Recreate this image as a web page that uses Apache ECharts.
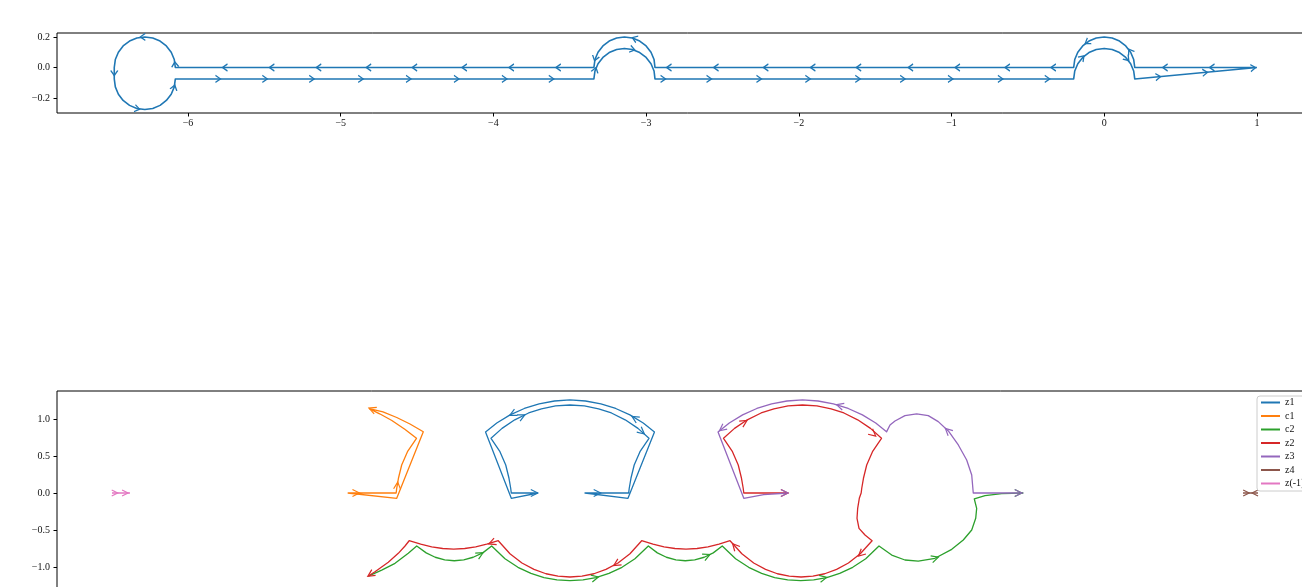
<!DOCTYPE html>
<html>
<head>
<meta charset="utf-8">
<title>contour and images</title>
<style>
  * { margin: 0; padding: 0; }
  html, body { background: #fff; overflow: hidden; }
  /* the axes run past the right and bottom edge of the window, as in the original */
  #chart { width: 1330px; height: 610px; }
</style>
</head>
<body>
<div id="chart"></div>
<script src="https://cdn.jsdelivr.net/npm/echarts@6/dist/echarts.min.js"></script>
<script>
// ---- top panel: the contour (upper edge walked leftwards, lower edge rightwards)
var topUpper = [
  [1.0, 0], [0.2, 0],
  [0.193, 0.052], [0.173, 0.1], [0.141, 0.141], [0.1, 0.173], [0.052, 0.193], [0, 0.2],
  [-0.052, 0.193], [-0.1, 0.173], [-0.141, 0.141], [-0.173, 0.1], [-0.193, 0.052], [-0.2, 0],
  [-2.942, 0],
  [-2.948, 0.052], [-2.968, 0.1], [-3.0, 0.141], [-3.042, 0.173], [-3.09, 0.193], [-3.142, 0.2],
  [-3.193, 0.193], [-3.242, 0.173], [-3.283, 0.141], [-3.315, 0.1], [-3.335, 0.052], [-3.342, 0],
  [-6.083, 0],
  [-6.09, 0.052], [-6.11, 0.1], [-6.142, 0.141], [-6.183, 0.173], [-6.231, 0.193], [-6.283, 0.2],
  [-6.335, 0.193], [-6.383, 0.173], [-6.425, 0.141], [-6.456, 0.1], [-6.476, 0.052], [-6.483, 0]
];
var topLower = [
  [-6.483, -0.075],
  [-6.476, -0.127], [-6.456, -0.175], [-6.425, -0.216], [-6.383, -0.248], [-6.335, -0.268], [-6.283, -0.275],
  [-6.231, -0.268], [-6.183, -0.248], [-6.142, -0.216], [-6.11, -0.175], [-6.09, -0.127], [-6.083, -0.075],
  [-3.342, -0.075],
  [-3.335, -0.023], [-3.315, 0.025], [-3.283, 0.066], [-3.242, 0.098], [-3.193, 0.118], [-3.142, 0.125],
  [-3.09, 0.118], [-3.042, 0.098], [-3.0, 0.066], [-2.968, 0.025], [-2.948, -0.023], [-2.942, -0.075],
  [-0.2, -0.075],
  [-0.193, -0.023], [-0.173, 0.025], [-0.141, 0.066], [-0.1, 0.098], [-0.052, 0.118], [0, 0.125],
  [0.052, 0.118], [0.1, 0.098], [0.141, 0.066], [0.173, 0.025], [0.193, -0.023], [0.2, -0.075],
  [1.0, 0]
];
// arrows: [x, y, direction in degrees]
var topArrowsLeftX = [-5.758, -5.451, -5.144, -4.817, -4.516, -4.19, -3.882, -3.575, -2.85, -2.542,
  -2.216, -1.908, -1.608, -1.268, -0.961, -0.634, -0.333, 0.399, 0.706];
var topArrowsRightX = [-5.804, -5.497, -5.19, -4.869, -4.556, -4.242, -3.928, -3.621, -2.889, -2.588,
  -2.261, -1.941, -1.614, -1.32, -1.007, -0.68, -0.373];
var topArrowsOther = [
  [0.353, -0.061, 5], [0.66, -0.033, 5], [0.975, -0.002, 5],
  [-3.075, 0.19, 160], [-3.333, 0.06, 253], [-3.09, 0.119, -14], [-3.333, -0.016, 73],
  [-0.111, 0.166, 214], [0.17, 0.106, 122], [-0.144, 0.064, 46], [0.15, 0.057, -49],
  [-6.296, 0.2, 180], [-6.483, -0.036, 270], [-6.333, -0.27, -12], [-6.091, -0.131, 74], [-6.085, 0.02, 95]
];

// ---- bottom panel: images of the contour
var legendNames = ['z1', 'c1', 'c2', 'z2', 'z3', 'z4', 'z(-1)'];
var z1Inner = [
  [-2.0, 0], [-2.361, 0], [-2.369, 0.064], [-2.392, 0.199], [-2.436, 0.378], [-2.514, 0.558], [-2.635, 0.739],
  [-2.486, 0.873], [-2.314, 0.989], [-2.127, 1.081], [-1.954, 1.138], [-1.762, 1.177], [-1.568, 1.189],
  [-1.373, 1.177], [-1.181, 1.138], [-1.008, 1.081], [-0.822, 0.989], [-0.649, 0.873], [-0.5, 0.739],
  [-0.622, 0.558], [-0.7, 0.378], [-0.744, 0.199], [-0.767, 0.064], [-0.775, 0], [-1.365, 0]
];
var z1Outer = [
  [-1.365, 0], [-0.784, -0.072], [-0.426, 0.824],
  [-0.578, 0.945], [-0.758, 1.055], [-0.95, 1.142], [-1.15, 1.205], [-1.357, 1.243], [-1.568, 1.257],
  [-1.778, 1.243], [-1.985, 1.205], [-2.185, 1.142], [-2.377, 1.055], [-2.557, 0.945], [-2.709, 0.824],
  [-2.361, -0.072], [-2.0, 0]
];
var c1Path = [
  [-4.572, 0], [-3.917, 0], [-3.909, 0.064], [-3.886, 0.199], [-3.842, 0.378], [-3.764, 0.558], [-3.642, 0.739],
  [-3.8, 0.862], [-3.975, 0.98], [-4.14, 1.07], [-4.28, 1.14],
  [-4.095, 1.095], [-3.909, 1.02], [-3.73, 0.932], [-3.55, 0.828],
  [-3.909, -0.072], [-4.572, 0]
];
var c2Path = [
  [-4.293, -1.122], [-4.112, -1.041], [-3.932, -0.95], [-3.753, -0.815], [-3.639, -0.716],
  [-3.511, -0.809], [-3.389, -0.868], [-3.261, -0.904], [-3.132, -0.915], [-3.003, -0.904], [-2.876, -0.868],
  [-2.747, -0.809], [-2.626, -0.716],
  [-2.446, -0.889], [-2.271, -1.004], [-2.095, -1.086], [-1.919, -1.142], [-1.744, -1.174], [-1.568, -1.185],
  [-1.392, -1.174], [-1.217, -1.142], [-1.041, -1.086], [-0.865, -1.004], [-0.69, -0.889], [-0.509, -0.716],
  [-0.387, -0.809], [-0.265, -0.868], [-0.137, -0.904], [-0.01, -0.915], [0.118, -0.904], [0.246, -0.868],
  [0.368, -0.809], [0.49, -0.716],
  [0.67, -0.889], [0.847, -1.004], [1.022, -1.086], [1.198, -1.142], [1.374, -1.174], [1.55, -1.185],
  [1.726, -1.174], [1.902, -1.142], [2.077, -1.086], [2.253, -1.004], [2.429, -0.889], [2.608, -0.716],
  [2.78, -0.838], [2.959, -0.905], [3.139, -0.919], [3.365, -0.882], [3.591, -0.761], [3.747, -0.635],
  [3.861, -0.5], [3.915, -0.342], [3.928, -0.207], [3.896, -0.081], [4.041, -0.036], [4.266, -0.009], [4.558, 0]
];
var z2Path = [
  [1.382, 0], [0.781, 0], [0.773, 0.064], [0.75, 0.199], [0.706, 0.378], [0.628, 0.558], [0.507, 0.739],
  [0.656, 0.873], [0.828, 0.989], [1.015, 1.081], [1.188, 1.138], [1.38, 1.177], [1.574, 1.189],
  [1.769, 1.177], [1.961, 1.138], [2.134, 1.081], [2.32, 0.989], [2.493, 0.873], [2.642, 0.739],
  [2.52, 0.558], [2.442, 0.378], [2.398, 0.199], [2.375, 0.064], [2.367, 0], [2.342, -0.072], [2.32, -0.207],
  [2.311, -0.342], [2.338, -0.477], [2.419, -0.568], [2.515, -0.645],
  [2.355, -0.82], [2.195, -0.946], [2.035, -1.032], [1.875, -1.091], [1.715, -1.124], [1.555, -1.135],
  [1.395, -1.124], [1.235, -1.091], [1.075, -1.032], [0.915, -0.946], [0.755, -0.82], [0.595, -0.645],
  [0.446, -0.692], [0.297, -0.728], [0.149, -0.75], [0, -0.757], [-0.149, -0.75], [-0.297, -0.728],
  [-0.446, -0.692], [-0.599, -0.645],
  [-0.757, -0.82], [-0.919, -0.946], [-1.082, -1.032], [-1.244, -1.091], [-1.406, -1.124], [-1.568, -1.135],
  [-1.73, -1.124], [-1.892, -1.091], [-2.054, -1.032], [-2.217, -0.946], [-2.379, -0.82], [-2.537, -0.645],
  [-2.693, -0.692], [-2.842, -0.728], [-2.99, -0.75], [-3.139, -0.757], [-3.288, -0.75], [-3.436, -0.728],
  [-3.585, -0.692], [-3.741, -0.645],
  [-3.797, -0.716], [-3.888, -0.815], [-4.023, -0.936], [-4.203, -1.064], [-4.293, -1.122]
];
var z3Path = [
  [4.558, 0], [3.882, 0], [3.861, 0.243], [3.793, 0.446], [3.68, 0.649], [3.545, 0.838], [3.409, 0.964],
  [3.274, 1.045], [3.117, 1.068], [2.959, 1.045], [2.824, 0.973], [2.757, 0.919], [2.71, 0.826],
  [2.564, 0.945], [2.384, 1.055], [2.192, 1.142], [1.992, 1.205], [1.785, 1.243], [1.574, 1.257],
  [1.364, 1.243], [1.157, 1.205], [0.957, 1.142], [0.765, 1.055], [0.585, 0.945], [0.433, 0.824],
  [0.781, -0.072], [1.05, -0.022], [1.382, 0]
];
var z4Path = [[7.527, 0], [7.73, 0]];
var zm1Path = [[-7.757, 0], [-7.514, 0]];

var z1Arrows = [[-2.05, 0, 0], [-1.2, 0, 0], [-2.34, 1.07, 206], [-2.22, 1.035, 26], [-0.689, 1.01, 149], [-0.599, 0.828, -40]];
var c1Arrows = [[-4.24, 1.13, 158], [-4.46, 0, 0], [-3.9, 0.1, 85]];
var c2Arrows = [[-2.784, -0.83, 29], [-1.23, -1.145, 13], [0.28, -0.85, 24], [1.855, -1.15, 12], [3.365, -0.882, 17], [4.49, 0, 0]];
var z2Arrows = [[1.33, 0, 0], [0.784, 0.955, 32], [2.527, 0.8, -40], [2.365, -0.82, 222], [0.662, -0.72, 132],
  [-0.936, -0.955, 212], [-2.62, -0.67, 202], [-4.26, -1.1, 213]];
var z3Arrows = [[1.33, 0, 0], [0.49, 0.87, 218], [2.08, 1.18, 163], [3.54, 0.84, 137], [4.49, 0, 0]];
var z4Arrows = [[7.57, 0, 0], [7.69, 0, 180]];
var zm1Arrows = [[-7.72, 0, 0], [-7.58, 0, 0]];

var topXTicks = [-6, -5, -4, -3, -2, -1, 0, 1];
var topYTicks = [-0.2, 0, 0.2];
var botYTicks = [-1.0, -0.5, 0, 0.5, 1.0];

var colors = {
  z1: '#1f77b4', c1: '#ff7f0e', c2: '#2ca02c', z2: '#d62728',
  z3: '#9467bd', z4: '#8c564b', 'z(-1)': '#e377c2'
};
var FONT = 'Liberation Serif';

function minus(s) { return s.replace('-', '\u2212'); }

function lineSeries(name, color, pts, idx, width) {
  return {
    type: 'line', name: name, xAxisIndex: idx, yAxisIndex: idx,
    data: pts, showSymbol: false, symbol: 'none', silent: true,
    lineStyle: { color: color, width: width, join: 'round' },
    itemStyle: { color: color }, z: 2
  };
}
function arrowSeries(name, color, list, idx, size) {
  return {
    type: 'scatter', name: name, xAxisIndex: idx, yAxisIndex: idx,
    symbol: 'path://M0,0L10,5L0,10', symbolSize: size, silent: true,
    data: list.map(function (a) { return { value: [a[0], a[1]], symbolRotate: a[2] }; }),
    itemStyle: { color: 'none', borderColor: color, borderWidth: 1.2, opacity: 1 },
    emphasis: { disabled: true }, z: 3
  };
}

var topArrows = topArrowsLeftX.map(function (x) { return [x, 0, 180]; })
  .concat(topArrowsRightX.map(function (x) { return [x, -0.075, 0]; }))
  .concat(topArrowsOther);

var series = [
  lineSeries('path', colors.z1, topUpper.concat(topLower), 0, 1.6),
  arrowSeries('path arrows', colors.z1, topArrows, 0, [5, 7]),
  lineSeries('z1', colors.z1, z1Inner.concat(z1Outer), 1, 1.3),
  arrowSeries('z1 arrows', colors.z1, z1Arrows, 1, [7, 7]),
  lineSeries('c1', colors.c1, c1Path, 1, 1.3),
  arrowSeries('c1 arrows', colors.c1, c1Arrows, 1, [7, 7]),
  lineSeries('c2', colors.c2, c2Path, 1, 1.3),
  arrowSeries('c2 arrows', colors.c2, c2Arrows, 1, [7, 7]),
  lineSeries('z2', colors.z2, z2Path, 1, 1.3),
  arrowSeries('z2 arrows', colors.z2, z2Arrows, 1, [7, 7]),
  lineSeries('z3', colors.z3, z3Path, 1, 1.3),
  arrowSeries('z3 arrows', colors.z3, z3Arrows, 1, [7, 7]),
  lineSeries('z4', colors.z4, z4Path, 1, 1.3),
  arrowSeries('z4 arrows', colors.z4, z4Arrows, 1, [6, 6]),
  lineSeries('z(-1)', colors['z(-1)'], zm1Path, 1, 1.3),
  arrowSeries('z(-1) arrows', colors['z(-1)'], zm1Arrows, 1, [6, 6])
];

var tickLabel = { fontFamily: FONT, fontSize: 10, color: '#111' };
var noLine = { show: false, onZero: false };

var chart = echarts.init(document.getElementById('chart'));
chart.setOption({
  animation: false,
  backgroundColor: '#fff',
  grid: [
    { left: 57, top: 33, width: 1261, height: 80, show: true, borderColor: '#000', borderWidth: 1 },
    { left: 57, top: 391, width: 1258, height: 204, show: true, borderColor: '#000', borderWidth: 1 }
  ],
  xAxis: [
    {
      gridIndex: 0, type: 'value', min: -6.858, max: 1.4, position: 'bottom',
      axisLine: noLine, splitLine: { show: false },
      axisTick: { show: true, length: 3.5, customValues: topXTicks, lineStyle: { color: '#000' } },
      axisLabel: Object.assign({ customValues: topXTicks, margin: 5,
        formatter: function (v) { return minus(String(v)); } }, tickLabel)
    },
    {
      gridIndex: 1, type: 'value', min: -8.5, max: 8.5, position: 'bottom',
      axisLine: noLine, splitLine: { show: false },
      axisTick: { show: false }, axisLabel: { show: false }
    }
  ],
  yAxis: [
    {
      gridIndex: 0, type: 'value', min: -0.298, max: 0.226, position: 'left',
      axisLine: noLine, splitLine: { show: false },
      axisTick: { show: true, length: 3.5, customValues: topYTicks, lineStyle: { color: '#000' } },
      axisLabel: Object.assign({ customValues: topYTicks, margin: 7,
        formatter: function (v) { return minus(v.toFixed(1)); } }, tickLabel)
    },
    {
      gridIndex: 1, type: 'value', min: -1.378, max: 1.378, position: 'left',
      axisLine: noLine, splitLine: { show: false },
      axisTick: { show: true, length: 3.5, customValues: botYTicks, lineStyle: { color: '#000' } },
      axisLabel: Object.assign({ customValues: botYTicks, margin: 7,
        formatter: function (v) { return minus(v.toFixed(1)); } }, tickLabel)
    }
  ],
  legend: {
    data: legendNames, orient: 'vertical', left: 1257, top: 396,
    icon: 'rect', itemWidth: 19, itemHeight: 2, itemGap: 2.5,
    padding: [1, 4, 2, 4], selectedMode: false,
    backgroundColor: '#fff', borderColor: '#ccc', borderWidth: 1, borderRadius: 3,
    textStyle: { fontFamily: FONT, fontSize: 10, color: '#111', lineHeight: 11 }
  },
  series: series
});
</script>
</body>
</html>
